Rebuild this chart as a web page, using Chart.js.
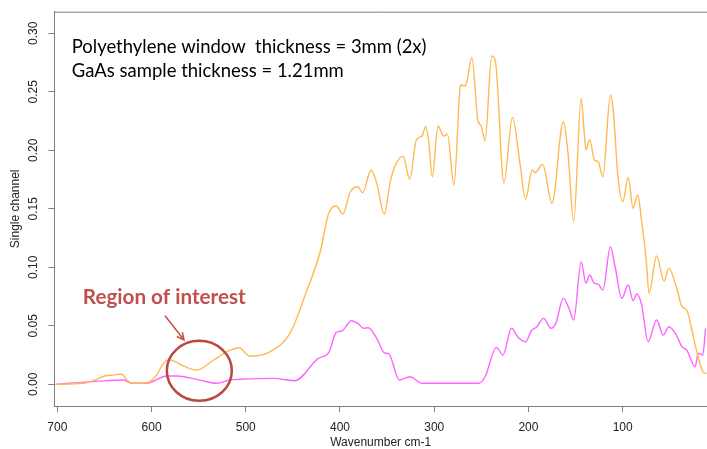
<!DOCTYPE html>
<html>
<head>
<meta charset="utf-8">
<script src="https://cdn.jsdelivr.net/npm/chart.js@4.4.1/dist/chart.umd.min.js"></script>
<style>
  html, body { margin: 0; padding: 0; background: #fff; }
</style>
</head>
<body>
<canvas id="spectrum" width="707" height="449"></canvas>
<script>
// wavenumber (cm-1) / single channel values
const windowWavenumber = [702, 672, 658, 649, 641, 632, 626, 621, 605, 596, 586, 580, 568, 552, 534, 520, 507, 496, 489, 474,
  453, 435, 421, 412, 404, 397, 389, 381, 376, 367, 361, 353, 347, 342, 333, 326, 319, 313, 309, 306,
  302, 296, 290, 286, 279, 273, 272, 267, 265, 260, 254, 250, 246, 239, 235, 226, 217, 209, 203, 196,
  193, 185, 175, 163, 158, 152, 144, 141, 139, 135, 130, 126, 121, 113, 110, 105, 100, 94, 89, 84,
  80, 75, 72, 64, 56, 51, 43, 37, 32, 25, 19, 14, 11];
const windowSignal = [0, 0.0009, 0.0043, 0.0074, 0.0079, 0.0088, 0.0037, 0.0009, 0.0014, 0.0065, 0.0193, 0.0208, 0.0165, 0.0122, 0.0208, 0.0279, 0.0313, 0.0242, 0.0244, 0.0279,
  0.0438, 0.0806, 0.1133, 0.1462, 0.1524, 0.1456, 0.1646, 0.1689, 0.1638, 0.1832, 0.1718, 0.1456, 0.1718, 0.1860, 0.1951, 0.1752, 0.2088, 0.2122, 0.2202, 0.2088,
  0.1774, 0.2208, 0.2122, 0.2139, 0.1703, 0.2501, 0.2558, 0.2550, 0.2601, 0.2795, 0.2274, 0.2202, 0.2082, 0.2806, 0.2757, 0.1723, 0.2282, 0.1889, 0.1581, 0.1832,
  0.1809, 0.1880, 0.1547, 0.2244, 0.1974, 0.1390, 0.2444, 0.2174, 0.2003, 0.2094, 0.1917, 0.1903, 0.1774, 0.2473, 0.2344, 0.1774, 0.1561, 0.1769, 0.1504, 0.1618,
  0.1404, 0.1062, 0.0778, 0.1097, 0.0883, 0.0991, 0.0834, 0.0663, 0.0635, 0.0407, 0.0208, 0.0099, 0.0094];

const sampleWavenumber = [702, 655, 630, 621, 605, 584, 573, 552, 531, 517, 506, 471, 448, 423, 412, 404, 398, 388, 381, 375,
  370, 361, 353, 348, 337, 326, 313, 253, 246, 234, 227, 218, 211, 203, 197, 191, 184, 176, 171, 163,
  157, 152, 144, 139, 135, 130, 126, 121, 113, 108, 101, 94, 89, 85, 80, 73, 64, 57, 51, 43,
  37, 32, 23, 20, 15, 12];
const sampleSignal = [0, 0.0028, 0.0037, 0.0009, 0.0009, 0.0071, 0.0071, 0.0043, 0.0009, 0.0037, 0.0043, 0.0051, 0.0031, 0.0222, 0.0270, 0.0444, 0.0456, 0.0544, 0.0521, 0.0479,
  0.0484, 0.0393, 0.0270, 0.0259, 0.0037, 0.0065, 0.0009, 0.0009, 0.0065, 0.0316, 0.0250, 0.0479, 0.0402, 0.0364, 0.0456, 0.0492, 0.0564, 0.0479, 0.0521, 0.0735,
  0.0650, 0.0550, 0.1048, 0.0863, 0.0934, 0.0863, 0.0857, 0.0806, 0.1176, 0.1005, 0.0735, 0.0849, 0.0715, 0.0772, 0.0686, 0.0364, 0.0550, 0.0421, 0.0492, 0.0421,
  0.0321, 0.0293, 0.0150, 0.0265, 0.0250, 0.0479];

const xTickValues = [700, 600, 500, 400, 300, 200, 100];
const yTickValues = [0, 0.05, 0.10, 0.15, 0.20, 0.25, 0.30];

const toPoints = (xs, ys) => xs.map((x, i) => ({x: x, y: ys[i]}));

const frameColor = '#808080';
const noteRed = 'rgb(192,80,77)';

// annotation placement, in data units
const notes = {
  textX: 684.7, line1Y: 0.2885, line2Y: 0.268,
  regionX: 586.5, regionY: 0.0741,
  arrowFrom: [585.7, 0.0586], arrowTo: [565.5, 0.0379],
  circle: [549.3, 0.0116]
};

function fitFont(ctx, text, weight, family, width) {
  ctx.font = weight + ' 20px ' + family;
  return 20 * width / ctx.measureText(text).width;
}

const framePlugin = {
  id: 'frame',
  afterDraw(chart) {
    const ctx = chart.ctx;
    const area = chart.chartArea;
    const xs = chart.scales.x;
    const ys = chart.scales.y;
    ctx.save();
    // top edge of the box
    ctx.strokeStyle = frameColor;
    ctx.lineWidth = 1;
    ctx.beginPath();
    ctx.moveTo(area.left, area.top + 0.5);
    ctx.lineTo(area.right, area.top + 0.5);
    ctx.stroke();

    // info text
    const fam = 'Lato, "Open Sans", sans-serif';
    const line1 = 'Polyethylene window  thickness = 3mm (2x)';
    const line2 = 'GaAs sample thickness = 1.21mm';
    let size = fitFont(ctx, line1, 'normal', fam, 355);
    ctx.font = 'normal ' + size.toFixed(2) + 'px ' + fam;
    ctx.fillStyle = '#000';
    ctx.textBaseline = 'middle';
    ctx.textAlign = 'left';
    ctx.fillText(line1, xs.getPixelForValue(notes.textX), ys.getPixelForValue(notes.line1Y));
    ctx.fillText(line2, xs.getPixelForValue(notes.textX), ys.getPixelForValue(notes.line2Y));

    // region of interest label
    const region = 'Region of interest';
    size = fitFont(ctx, region, 'bold', fam, 163);
    ctx.font = 'bold ' + size.toFixed(2) + 'px ' + fam;
    ctx.fillStyle = noteRed;
    ctx.textAlign = 'center';
    ctx.fillText(region, xs.getPixelForValue(notes.regionX), ys.getPixelForValue(notes.regionY));

    // arrow
    const ax = xs.getPixelForValue(notes.arrowFrom[0]), ay = ys.getPixelForValue(notes.arrowFrom[1]);
    const bx = xs.getPixelForValue(notes.arrowTo[0]), by = ys.getPixelForValue(notes.arrowTo[1]);
    const ang = Math.atan2(by - ay, bx - ax);
    ctx.strokeStyle = noteRed;
    ctx.lineWidth = 1.5;
    ctx.beginPath();
    ctx.moveTo(ax, ay);
    ctx.lineTo(bx, by);
    ctx.moveTo(bx - 8 * Math.cos(ang - 0.45), by - 8 * Math.sin(ang - 0.45));
    ctx.lineTo(bx, by);
    ctx.lineTo(bx - 8 * Math.cos(ang + 0.45), by - 8 * Math.sin(ang + 0.45));
    ctx.stroke();

    // circle
    ctx.strokeStyle = 'rgb(185,72,66)';
    ctx.lineWidth = 2.5;
    ctx.beginPath();
    ctx.ellipse(xs.getPixelForValue(notes.circle[0]), ys.getPixelForValue(notes.circle[1]), 32.5, 30, 0, 0, Math.PI * 2);
    ctx.stroke();
    ctx.restore();
  }
};

const tickFont = {family: '"Liberation Sans", Arial, sans-serif', size: 12};

new Chart(document.getElementById('spectrum'), {
  type: 'line',
  data: {
    datasets: [
      {
        label: 'Polyethylene window',
        data: toPoints(windowWavenumber, windowSignal),
        borderColor: 'rgb(255,184,82)',
        borderWidth: 1.4,
        pointRadius: 0,
        cubicInterpolationMode: 'monotone'
      },
      {
        label: 'GaAs sample',
        data: toPoints(sampleWavenumber, sampleSignal),
        borderColor: 'rgb(255,100,255)',
        borderWidth: 1.4,
        pointRadius: 0,
        cubicInterpolationMode: 'monotone'
      }
    ]
  },
  options: {
    responsive: false,
    devicePixelRatio: 1,
    animation: false,
    layout: {padding: {top: 11.7, right: 0, left: 0, bottom: 0}},
    plugins: {legend: {display: false}, tooltip: {enabled: false}},
    scales: {
      x: {
        type: 'linear',
        reverse: true,
        min: 10.5,
        max: 703.2,
        afterBuildTicks: (scale) => { scale.ticks = xTickValues.map(v => ({value: v})); },
        afterFit: (scale) => { scale.height = 43; },
        grid: {drawOnChartArea: false, drawTicks: true, tickLength: 6, color: frameColor},
        border: {color: frameColor},
        ticks: {font: tickFont, color: '#222', padding: 8, maxRotation: 0, autoSkip: false},
        title: {display: true, text: 'Wavenumber cm-1', font: {family: tickFont.family, size: 12, lineHeight: 1}, color: '#222', padding: {top: 0, bottom: 0}}
      },
      y: {
        type: 'linear',
        min: -0.0185,
        max: 0.3185,
        afterBuildTicks: (scale) => { scale.ticks = yTickValues.map(v => ({value: v})); },
        afterFit: (scale) => { scale.width = 54.3; },
        grid: {drawOnChartArea: false, drawTicks: true, tickLength: 6, color: frameColor},
        border: {color: frameColor},
        ticks: {
          font: tickFont, color: '#222', padding: 3, minRotation: 90, maxRotation: 90,
          crossAlign: 'center', autoSkip: false,
          callback: (v) => v.toFixed(2)
        },
        title: {display: true, text: 'Single channel', font: {family: tickFont.family, size: 12, lineHeight: 1.2}, color: '#222', padding: {top: 8, bottom: 0}}
      }
    }
  },
  plugins: [framePlugin]
});
</script>
</body>
</html>
